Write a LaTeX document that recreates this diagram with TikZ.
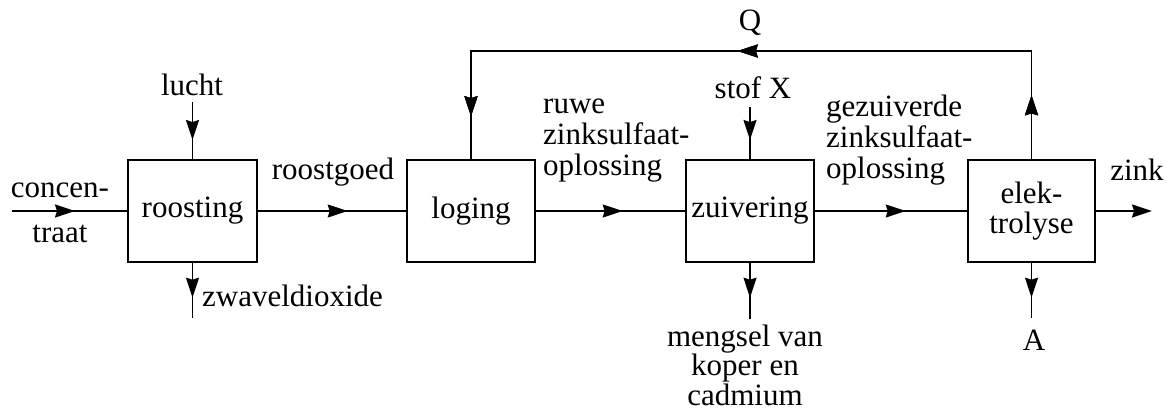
\documentclass[tikz,border=0pt]{standalone}
\usepackage{fontspec}
\setmainfont{Liberation Serif}
\newfontfamily\diagserif{Liberation Serif}
\usetikzlibrary{arrows.meta,decorations.markings}
\tikzset{
  procbox/.style={draw, line width=1.4pt, inner sep=0pt, align=center, font=\diagserif\fontsize{31}{30}\selectfont},
  lbl/.style={inner sep=0pt, font=\diagserif\fontsize{31}{31}\selectfont},
  flow/.style={line width=1.4pt},
  tipat/.style={postaction={decorate}, decoration={markings, mark=at position #1 with {\arrow{Stealth[length=20pt,width=13pt,inset=2pt]}}}},
  endtip/.style={-{Stealth[length=20pt,width=13pt,inset=2pt]}}
}
\begin{document}
\begin{tikzpicture}[x=1pt,y=-1pt]
\useasboundingbox (0,0) rectangle (1169,412);
% boxes
\node[procbox, minimum width=129pt, minimum height=102pt] (roost) at (192.5,211) {roosting};
\node[procbox, minimum width=128pt, minimum height=102pt] (loog) at (471,211) {loging};
\node[procbox, minimum width=128pt, minimum height=102pt] (zuiv) at (750,211) {zuivering};
\node[procbox, minimum width=127pt, minimum height=102pt] (elek) at (1031.5,211) {elek-\\trolyse};
% free ends
\coordinate (cin) at (12,211);
\coordinate (lin) at (192.5,102);
\coordinate (zout) at (192.5,318);
\coordinate (xin) at (750,107);
\coordinate (mout) at (750,319);
\coordinate (aout) at (1031.5,318);
\coordinate (zinkout) at (1152,211);
\coordinate (qr) at (1031.5,51);
\coordinate (ql) at (471,51);
% labels
\node[lbl, align=center, anchor=base, font=\diagserif\fontsize{31}{45}\selectfont] (tconc) at (60,242) {concen-\\traat};
\node[lbl] (tlucht) at (192,85) {lucht};
\node[lbl, anchor=west] (tzwavel) at (202,296) {zwaveldioxide};
\node[lbl] (troost) at (333,172) {roostgoed};
\node[lbl, align=left, anchor=west] (truwe) at (543,141) {ruwe\\zinksulfaat-\\oplossing};
\node[lbl] (tstof) at (753,88) {stof X};
\node[lbl, align=center, anchor=base, font=\diagserif\fontsize{31}{28}\selectfont] (tmeng) at (745,405) {mengsel van\\koper en\\cadmium};
\node[lbl, align=left, anchor=west] (tgez) at (826,140) {gezuiverde\\zinksulfaat-\\oplossing};
\node[lbl] (tzink) at (1137,170) {zink};
\node[lbl] (tA) at (1034,340) {A};
\node[lbl] (tQ) at (750,23) {Q};
% connectors
\draw[flow, tipat=63pt] (cin) -- (roost.west);
\draw[flow, tipat=38pt] (lin) -- (roost.north);
\draw[flow, tipat=35pt] (roost.south) -- (zout);
\draw[flow, tipat=90pt] (roost.east) -- (loog.west);
\draw[flow, tipat=87pt] (loog.east) -- (zuiv.west);
\draw[flow, tipat=33pt] (xin) -- (zuiv.north);
\draw[flow, tipat=35pt] (zuiv.south) -- (mout);
\draw[flow, tipat=91pt] (zuiv.east) -- (elek.west);
\draw[flow, tipat=35pt] (elek.south) -- (aout);
\draw[flow, endtip] (elek.east) -- (zinkout);
\draw[flow, tipat=64pt, tipat=402pt, tipat=734pt] (elek.north) -- (qr) -- (ql) -- (loog.north);
\end{tikzpicture}
\end{document}
